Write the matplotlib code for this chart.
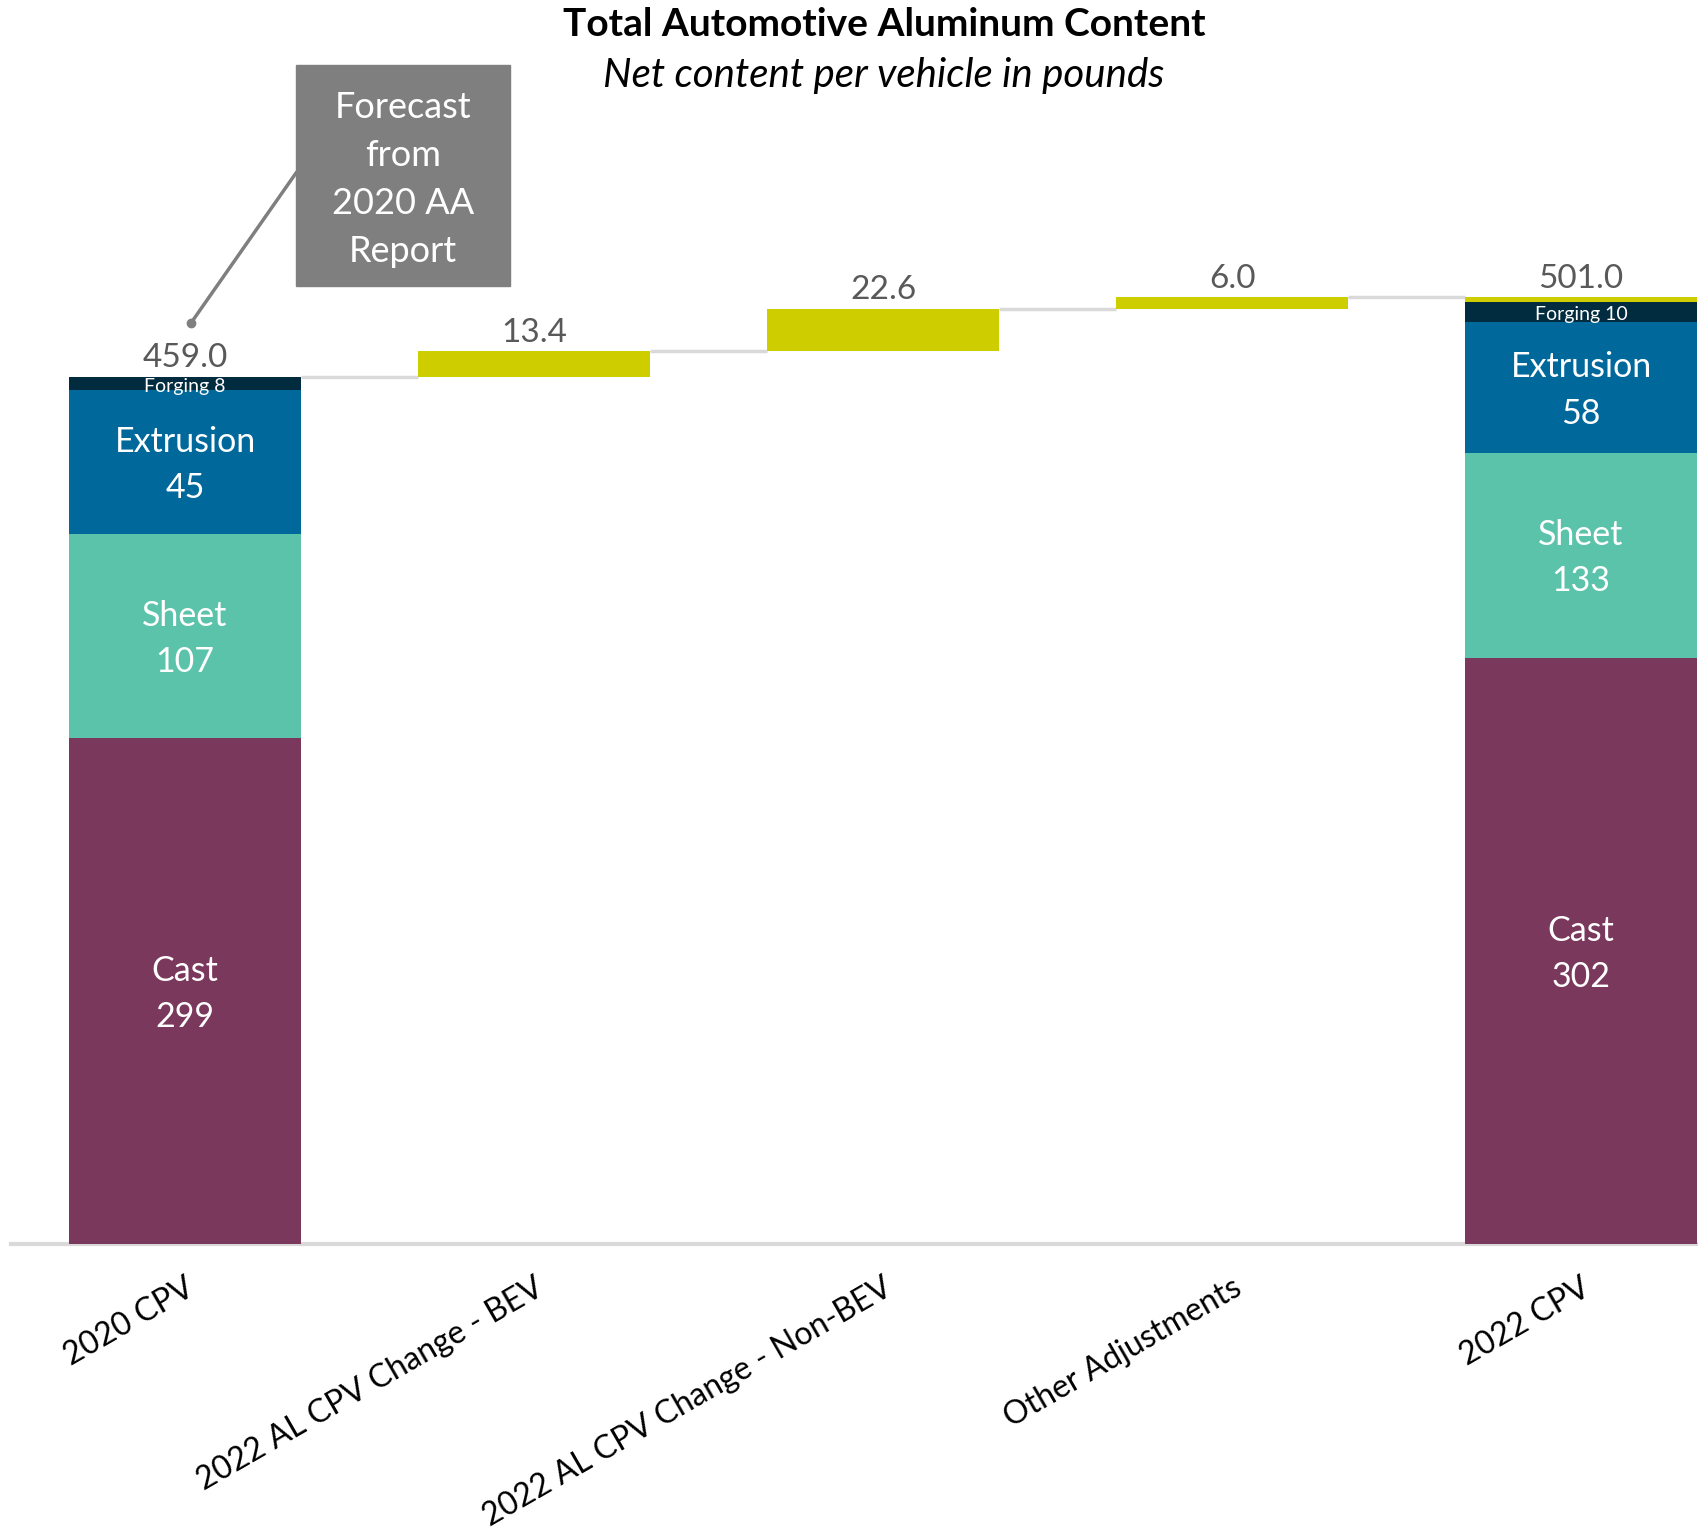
import matplotlib
matplotlib.use("Agg")
import matplotlib.pyplot as plt

plt.rcParams['font.family'] = ['Lato', 'DejaVu Sans']

# ---- data ----
categories = ["2020 CPV", "2022 AL CPV Change - BEV", "2022 AL CPV Change - Non-BEV",
              "Other Adjustments", "2022 CPV"]
start_total = 459.0
end_total = 501.0
changes = [13.4, 22.6, 6.0]
change_labels = ["13.4", "22.6", "6.0"]

segment_names = ["Cast", "Sheet", "Extrusion", "Forging"]
# heights as drawn in the picture
seg_2020 = [267.9, 107.8, 76.2, 7.1]
seg_2022 = [310.3, 108.3, 69.3, 10.6]
seg_2020_labels = ["299", "107", "45", "8"]
seg_2022_labels = ["302", "133", "58", "10"]
seg_colors = ["#7a395c", "#5cc3ab", "#00689b", "#012b3e"]
change_color = "#cdcd00"

W, H = 1698, 1534
fig = plt.figure(figsize=(W / 100, H / 100), dpi=100)
px_per_unit = 1.8896
base_px = 1244
ax = fig.add_axes([10.5 / W, (H - base_px) / H, (W - 10.5) / W, base_px / H])
ax.set_xlim(-0.5, 4.335)
ax.set_ylim(0, base_px / px_per_unit)
ax.axis('off')

bw = 0.667
LBL = 24

def stacked(x, segs, labels):
    bottom = 0
    for i, (h, lab) in enumerate(zip(segs, labels)):
        ax.bar(x, h, bw, bottom=bottom, color=seg_colors[i], linewidth=0, zorder=3)
        if segment_names[i] == "Forging":
            ax.text(x, bottom + h / 2 - 1.5, f"Forging {lab}", ha='center', va='center',
                    color='white', fontsize=14, zorder=5)
        else:
            ax.text(x, bottom + h / 2 - 1.5, f"{segment_names[i]}\n{lab}", ha='center',
                    va='center', color='white', fontsize=24.5, linespacing=1.55, zorder=5)
        bottom += h
    return bottom

top0 = stacked(0, seg_2020, seg_2020_labels)
ax.text(0, start_total + 2.0, f"{start_total:.1f}", ha='center', va='bottom',
        color='#595959', fontsize=LBL, zorder=5)

# waterfall changes
running = start_total
prev_right = 0 + bw / 2
for i, (d, lab) in enumerate(zip(changes, change_labels)):
    x = i + 1
    ax.plot([prev_right, x - bw / 2], [running, running], color='#d9d9d9', lw=2.5, zorder=2,
            solid_capstyle='butt')
    ax.bar(x, d, bw, bottom=running, color=change_color, linewidth=0, zorder=3)
    ax.text(x, running + d + 2.0, lab, ha='center', va='bottom', color='#595959',
            fontsize=LBL, zorder=5)
    running += d
    prev_right = x + bw / 2
ax.plot([prev_right, 4 - bw / 2], [running, running], color='#d9d9d9', lw=2.5, zorder=2,
        solid_capstyle='butt')

top4 = stacked(4, seg_2022, seg_2022_labels)
# sliver to reach the total
ax.bar(4, end_total - top4, bw, bottom=top4, color=change_color, linewidth=0, zorder=3)
ax.text(4, end_total + 2.0, f"{end_total:.1f}", ha='center', va='bottom',
        color='#595959', fontsize=LBL, zorder=5)

# baseline
ax.plot([-0.5, 4.335], [0, 0], color='#d9d9d9', lw=3, zorder=2, clip_on=False)

# category labels
for i, c in enumerate(categories):
    ax.text(i + 0.02, -22, c, rotation=30, rotation_mode='anchor', ha='right', va='center',
            fontsize=23, color='black')

# title
fig.text(884 / W, 1 - 24 / H, "Total Automotive Aluminum Content", ha='center', va='center',
         fontsize=28, fontweight='bold')
fig.text(884 / W, 1 - 75 / H, "Net content per vehicle in pounds", ha='center', va='center',
         fontsize=29, style='italic')

# callout box
bx0, by0, bx1, by1 = 296, 65, 510, 286
fig.patches.append(plt.Rectangle((bx0 / W, 1 - by1 / H), (bx1 - bx0) / W, (by1 - by0) / H,
                                 transform=fig.transFigure, color='#7f7f7f', zorder=1))
fig.text((bx0 + bx1) / 2 / W, 1 - ((by0 + by1) / 2 + 4) / H, "Forecast\nfrom\n2020 AA\nReport",
         ha='center', va='center', color='white', fontsize=26, linespacing=1.55)
fig.add_artist(plt.Line2D([296 / W, 191 / W], [1 - 173 / H, 1 - 323 / H],
                          transform=fig.transFigure, color='#7f7f7f', lw=2.5))
fig.add_artist(plt.Line2D([191 / W], [1 - 323 / H], transform=fig.transFigure,
                          color='#7f7f7f', marker='o', markersize=6, lw=0))

fig.savefig("out.png", dpi=100, facecolor='white')
